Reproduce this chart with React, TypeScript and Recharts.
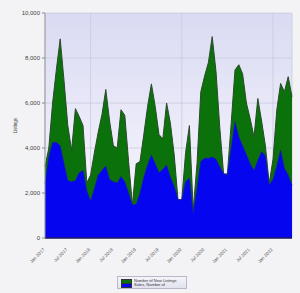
import React from "react";
import {
  AreaChart,
  Area,
  XAxis,
  YAxis,
  CartesianGrid,
} from "recharts";

const MONTH_NAMES = ["Jan", "Feb", "Mar", "Apr", "May", "Jun", "Jul", "Aug", "Sep", "Oct", "Nov", "Dec"];
const YEARS = [2017, 2018, 2019, 2020, 2021, 2022];

// Jan 2017 .. Jun 2022
const months: string[] = YEARS.flatMap((y) => MONTH_NAMES.map((m) => `${m} ${y}`)).slice(0, 66);

const newListings = [
  3170, 4000, 6000, 7500, 8850, 7000, 5000, 3900, 5750, 5400, 5000, 2450,
  2800, 3800, 4700, 5500, 6600, 5200, 4100, 4000, 5700, 5450, 3400, 1470,
  3300, 3400, 4600, 5850, 6850, 5850, 4600, 4400, 6000, 5100, 3700, 1700,
  1700, 3800, 5000, 1250, 3300, 6500, 7200, 7800, 8950, 7400, 4900, 2850,
  2850, 5100, 7470, 7700, 7300, 6000, 5300, 4500, 6200, 5200, 4100, 2430,
  3500, 5700, 6870, 6500, 7170, 6280,
];

const sales = [
  2400, 3600, 4250, 4250, 4100, 3300, 2550, 2500, 2550, 2900, 3000, 2100,
  1650, 2200, 2800, 3000, 3200, 2600, 2500, 2450, 2730, 2500, 2000, 1470,
  1500, 2000, 2700, 3250, 3690, 3300, 2900, 3050, 3240, 2700, 2300, 1700,
  1700, 2500, 2660, 1100, 2200, 3400, 3550, 3540, 3600, 3500, 3170, 2850,
  2800, 4000, 5170, 4500, 4100, 3700, 3300, 3000, 3450, 3840, 3650, 2360,
  2600, 3200, 3900, 3100, 2800, 2360,
];

const xTicks = [
  "Jan 2017", "Jul 2017", "Jan 2018", "Jul 2018", "Jan 2019", "Jul 2019",
  "Jan 2020", "Jul 2020", "Jan 2021", "Jul 2021", "Jan 2022",
];
const gridTicks = ["Jan 2018", "Jan 2020", "Jan 2022"];
const yTicks = [0, 2000, 4000, 6000, 8000, 10000];

const seriesNames = ["Number of New Listings", "Sales, Number of"];
const seriesColors = ["#0b710b", "#0505f0"];

const data = months.map((m, i) => ({
  month: m,
  listings: newListings[i],
  sales: sales[i],
}));

const FONT = "'Liberation Sans', Arial, sans-serif";

const XTick = (props: any) => {
  const { x, y, payload } = props;
  return (
    <text
      x={x}
      y={y + 4}
      transform={`rotate(-45 ${x} ${y + 4})`}
      textAnchor="end"
      fontSize={4.6}
      fill="#555"
      fontFamily={FONT}
    >
      {payload.value}
    </text>
  );
};

export default function App() {
  return (
    <div
      style={{
        position: "absolute",
        left: 0,
        top: 0,
        width: 300,
        height: 293,
        background: "#f3f3f5",
        fontFamily: FONT,
      }}
    >
      <AreaChart
        width={300}
        height={293}
        data={data}
        margin={{ top: 13, right: 8, left: 0, bottom: 0 }}
      >
        <defs>
          <linearGradient id="plotBg" x1="0" y1="0" x2="0" y2="1">
            <stop offset="0%" stopColor="#dadaf3" />
            <stop offset="100%" stopColor="#fbfbff" />
          </linearGradient>
        </defs>
        <XAxis
          xAxisId="grid"
          dataKey="month"
          hide
          ticks={gridTicks}
          interval={0}
        />
        <CartesianGrid
          xAxisId="grid"
          fill="url(#plotBg)"
          stroke="#c9c9de"
          strokeWidth={0.8}
        />
        <XAxis
          dataKey="month"
          ticks={xTicks}
          interval={0}
          height={55}
          tick={<XTick />}
          tickLine={false}
          axisLine={{ stroke: "#1a1a60", strokeWidth: 1.5 }}
        />
        <YAxis
          width={45}
          domain={[0, 10000]}
          ticks={yTicks}
          interval={0}
          tickSize={3}
          tickLine={{ stroke: "#888" }}
          axisLine={{ stroke: "#999" }}
          tick={{ fontSize: 6, fill: "#444", fontFamily: FONT }}
          tickFormatter={(v: number) => v.toLocaleString("en-US")}
          label={{
            value: "Listings",
            angle: -90,
            position: "insideLeft",
            offset: 15,
            style: { fontSize: 4.5, fill: "#444", fontFamily: FONT, textAnchor: "middle" },
          }}
        />
        <Area
          type="linear"
          dataKey="listings"
          name={seriesNames[0]}
          stroke="#2b4a2b"
          strokeWidth={1}
          fill={seriesColors[0]}
          fillOpacity={1}
          isAnimationActive={false}
          dot={false}
          activeDot={false}
        />
        <Area
          type="linear"
          dataKey="sales"
          name={seriesNames[1]}
          stroke="#1a1ab0"
          strokeWidth={0.6}
          fill={seriesColors[1]}
          fillOpacity={1}
          isAnimationActive={false}
          dot={false}
          activeDot={false}
        />
      </AreaChart>
      <div
        style={{
          position: "absolute",
          left: 117,
          top: 276,
          width: 70,
          height: 13,
          boxSizing: "border-box",
          border: "1px solid #b8b8c8",
          background: "linear-gradient(#f4f4fa, #e2e2ee)",
          padding: "2px 0 0 3px",
          fontSize: 4,
          lineHeight: "4px",
          color: "#333",
        }}
      >
        {seriesNames.map((n, i) => (
          <div key={n} style={{ display: "flex", alignItems: "center", height: 4 }}>
            <span
              style={{
                display: "inline-block",
                width: 9,
                height: 3,
                background: seriesColors[i],
                border: "0.5px solid #333",
                marginRight: 2,
              }}
            />
            <span style={{ whiteSpace: "nowrap" }}>{n}</span>
          </div>
        ))}
      </div>
    </div>
  );
}
